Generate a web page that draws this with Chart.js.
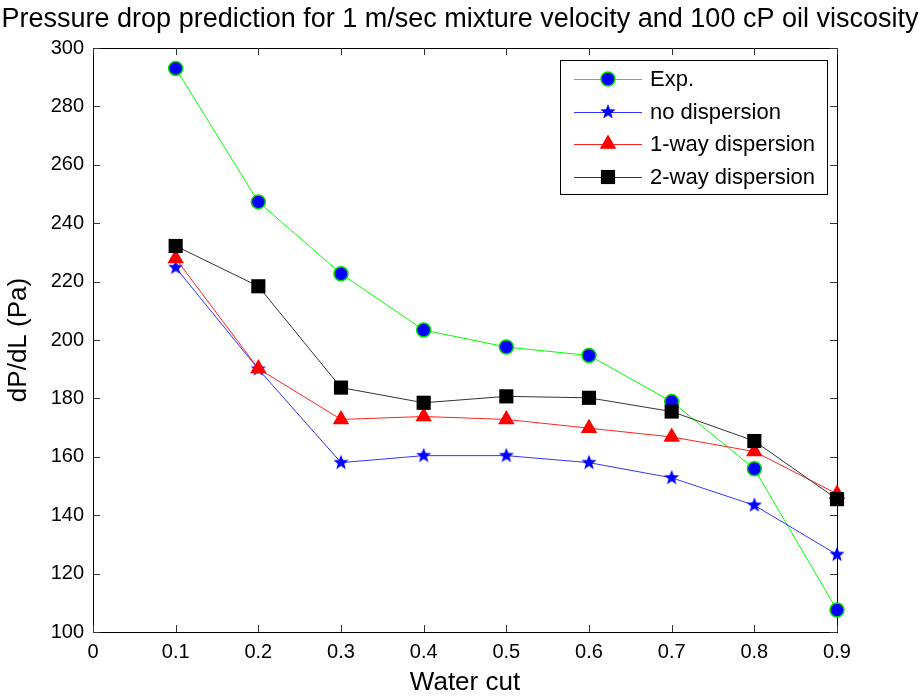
<!DOCTYPE html>
<html lang="en">
<head>
    <meta charset="UTF-8">
    <title>Pressure drop prediction</title>
    <script src="https://cdn.jsdelivr.net/npm/chart.js"></script>
    <style>
        html, body { margin: 0; padding: 0; background: #fff; }
        canvas { display: block; }
    </style>
</head>
<body>
    <canvas id="dpChart" width="920" height="698"></canvas>

    <script>
        // water cut values and measured / predicted dP/dL (Pa)
        const waterCut = [0.1, 0.2, 0.3, 0.4, 0.5, 0.6, 0.7, 0.8, 0.9];
        const expData = [293.0, 247.3, 222.7, 203.4, 197.6, 194.7, 178.9, 155.9, 107.5];
        const noDispersion = [224.8, 190.0, 158.0, 160.4, 160.4, 158.0, 152.8, 143.4, 126.5];
        const oneWayDispersion = [227.9, 190.2, 172.8, 173.8, 172.8, 169.8, 166.8, 161.8, 147.3];
        const twoWayDispersion = [232.2, 218.4, 183.7, 178.5, 180.7, 180.2, 175.5, 165.4, 145.5];

        const xTicks = [0, 0.1, 0.2, 0.3, 0.4, 0.5, 0.6, 0.7, 0.8, 0.9];
        const yTicks = [100, 120, 140, 160, 180, 200, 220, 240, 260, 280, 300];

        const FONT = "'Liberation Sans', Arial, sans-serif";

        // filled five point star, used as point image
        function makeStar(r, color) {
            const c = document.createElement('canvas');
            const s = Math.ceil(r * 2 + 2);
            c.width = s; c.height = s;
            const g = c.getContext('2d');
            g.fillStyle = color;
            g.beginPath();
            for (let i = 0; i < 10; i++) {
                const rad = i % 2 === 0 ? r : r * 0.42;
                const a = -Math.PI / 2 + i * Math.PI / 5;
                const px = s / 2 + rad * Math.cos(a);
                const py = s / 2 + rad * Math.sin(a);
                if (i === 0) g.moveTo(px, py); else g.lineTo(px, py);
            }
            g.closePath();
            g.fill();
            return c;
        }
        const starImg = makeStar(8, '#0000ff');

        function pairs(ys) {
            return waterCut.map((x, i) => ({ x: x, y: ys[i] }));
        }

        const series = [
            { label: 'Exp.', data: expData, line: '#00ff00', fill: '#0000ff', edge: '#00dd00', style: 'circle', radius: 7, order: 4 },
            { label: 'no dispersion', data: noDispersion, line: '#3333ff', fill: '#0000ff', edge: '#0000ff', style: starImg, radius: 7, order: 3 },
            { label: '1-way dispersion', data: oneWayDispersion, line: '#ff2222', fill: '#ff0000', edge: '#ff0000', style: 'triangle', radius: 9.5, order: 2 },
            { label: '2-way dispersion', data: twoWayDispersion, line: '#333333', fill: '#000000', edge: '#000000', style: 'rect', radius: 10, order: 1 }
        ];

        function drawMarker(ctx, s, x, y) {
            ctx.save();
            ctx.fillStyle = s.fill;
            ctx.strokeStyle = s.edge;
            ctx.lineWidth = 1.5;
            if (s.style === 'circle') {
                ctx.beginPath();
                ctx.arc(x, y, s.radius, 0, Math.PI * 2);
                ctx.fill(); ctx.stroke();
            } else if (s.style === 'triangle') {
                const r = s.radius;
                ctx.beginPath();
                ctx.moveTo(x, y - r);
                ctx.lineTo(x + r * Math.sin(Math.PI * 2 / 3), y + r / 2);
                ctx.lineTo(x - r * Math.sin(Math.PI * 2 / 3), y + r / 2);
                ctx.closePath();
                ctx.fill();
            } else if (s.style === 'rect') {
                const h = s.radius * Math.SQRT1_2;
                ctx.fillRect(x - h, y - h, 2 * h, 2 * h);
            } else {
                ctx.drawImage(s.style, x - s.style.width / 2, y - s.style.height / 2);
            }
            ctx.restore();
        }

        // box around the plot, inward ticks on all sides, title
        const framePlugin = {
            id: 'frame',
            beforeDatasetsDraw(chart) {
                const { ctx, chartArea: a, scales } = chart;
                ctx.save();
                ctx.strokeStyle = '#000';
                ctx.lineWidth = 1;
                ctx.strokeRect(a.left + 0.5, a.top + 0.5, a.right - a.left, a.bottom - a.top);
                ctx.strokeStyle = '#333';
                const tl = 7;
                ctx.beginPath();
                xTicks.forEach(v => {
                    const px = Math.round(scales.x.getPixelForValue(v)) + 0.5;
                    ctx.moveTo(px, a.bottom); ctx.lineTo(px, a.bottom - tl);
                    ctx.moveTo(px, a.top); ctx.lineTo(px, a.top + tl);
                });
                yTicks.forEach(v => {
                    const py = Math.round(scales.y.getPixelForValue(v)) + 0.5;
                    ctx.moveTo(a.left, py); ctx.lineTo(a.left + tl, py);
                    ctx.moveTo(a.right, py); ctx.lineTo(a.right - tl, py);
                });
                ctx.stroke();

                ctx.fillStyle = '#000';
                ctx.font = '27px ' + FONT;
                ctx.textAlign = 'center';
                ctx.textBaseline = 'middle';
                ctx.fillText('Pressure drop prediction for 1 m/sec mixture velocity and 100 cP oil viscosity', 460, 20);
                ctx.restore();
            },
            afterDraw(chart) {
                const ctx = chart.ctx;
                const bx = 560, by = 60, bw = 267, bh = 134;
                ctx.save();
                ctx.fillStyle = '#fff';
                ctx.fillRect(bx, by, bw, bh);
                ctx.strokeStyle = '#000';
                ctx.lineWidth = 1;
                ctx.strokeRect(bx + 0.5, by + 0.5, bw, bh);
                const rows = [79, 112, 144, 177];
                series.forEach((s, i) => {
                    const y = rows[i];
                    ctx.strokeStyle = s.line;
                    ctx.beginPath();
                    ctx.moveTo(574, y + 0.5); ctx.lineTo(642, y + 0.5);
                    ctx.stroke();
                    drawMarker(ctx, s, 608, y);
                    ctx.fillStyle = '#000';
                    ctx.font = '22px ' + FONT;
                    ctx.textAlign = 'left';
                    ctx.textBaseline = 'middle';
                    ctx.fillText(s.label, 650, y + 1);
                });
                ctx.restore();
            }
        };

        new Chart(document.getElementById('dpChart'), {
            type: 'line',
            data: {
                datasets: series.map(s => ({
                    label: s.label,
                    data: pairs(s.data),
                    borderColor: s.line,
                    borderWidth: 1,
                    backgroundColor: s.fill,
                    pointBackgroundColor: s.fill,
                    pointBorderColor: s.edge,
                    pointBorderWidth: s.style === 'circle' ? 1.5 : 0,
                    pointStyle: s.style,
                    pointRadius: s.radius,
                    pointHoverRadius: s.radius,
                    tension: 0,
                    clip: false,
                    order: s.order
                }))
            },
            options: {
                responsive: false,
                animation: false,
                maintainAspectRatio: false,
                devicePixelRatio: 1,
                layout: { padding: { top: 48, right: 83, left: 0, bottom: 0 } },
                plugins: {
                    legend: { display: false },
                    title: { display: false },
                    tooltip: { enabled: false }
                },
                scales: {
                    x: {
                        type: 'linear',
                        min: 0,
                        max: 0.9,
                        afterFit(scale) { scale.height = 66; },
                        afterBuildTicks(scale) { scale.ticks = xTicks.map(v => ({ value: v })); },
                        grid: { display: false, drawTicks: false },
                        border: { display: false },
                        ticks: {
                            color: '#000',
                            padding: 8,
                            maxRotation: 0,
                            font: { family: FONT, size: 20 },
                            callback: v => (v === 0 ? '0' : v.toFixed(1))
                        },
                        title: {
                            display: true,
                            text: 'Water cut',
                            color: '#000',
                            padding: 0,
                            font: { family: FONT, size: 26 }
                        }
                    },
                    y: {
                        type: 'linear',
                        min: 100,
                        max: 300,
                        afterFit(scale) { scale.width = 93; },
                        afterBuildTicks(scale) { scale.ticks = yTicks.map(v => ({ value: v })); },
                        grid: { display: false, drawTicks: false },
                        border: { display: false },
                        ticks: {
                            color: '#000',
                            padding: 9,
                            font: { family: FONT, size: 20 }
                        },
                        title: {
                            display: true,
                            text: 'dP/dL (Pa)',
                            color: '#000',
                            padding: { top: 3, bottom: 0 },
                            font: { family: FONT, size: 26 }
                        }
                    }
                }
            },
            plugins: [framePlugin]
        });
    </script>
</body>
</html>
